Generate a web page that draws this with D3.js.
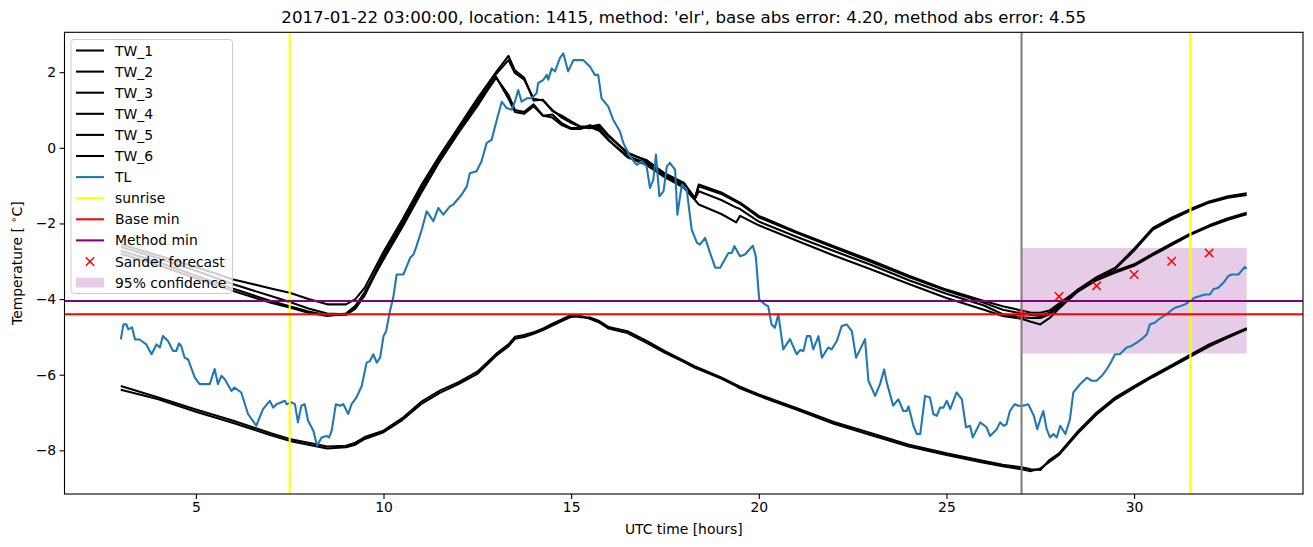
<!DOCTYPE html>
<html><head><meta charset="utf-8">
<script src="https://cdn.jsdelivr.net/npm/d3@7"></script>
<style>body{margin:0;background:#fff}svg text{font-family:"DejaVu Sans",sans-serif}</style>
</head><body><svg id="c" width="1313" height="547"></svg>
<script>
const titleText = "2017-01-22 03:00:00, location: 1415, method: 'elr', base abs error: 4.20, method abs error: 4.55";
const xTicks = [5, 10, 15, 20, 25, 30];
const yTicks = [-8, -6, -4, -2, 0, 2];
const seriesNames = ["TW_1","TW_2","TW_3","TW_4","TW_5","TW_6"];
const twTime = [3,4,5,6,7,7.5,8,8.5,9,9.25,9.5,10,10.5,11,11.5,12,12.5,13,13.33,13.5,13.75,14,14.25,14.5,14.75,15,15.25,15.5,15.75,16,16.5,17,17.5,18,18.3,18.4,19,19.4,19.5,20,21,22,23,24,25,26,26.5,27,27.25,27.5,27.75,28,28.5,29,29.5,30,30.5,31,31.5,32,32.5,33];
const tw1 = [-2.55,-2.85,-3.15,-3.48,-3.72,-3.83,-4.0,-4.14,-4.14,-4.0,-3.7,-2.75,-1.9,-1.0,-0.2,0.55,1.3,2.0,2.43,2.05,1.85,1.25,1.27,0.97,0.85,0.7,0.56,0.56,0.61,0.33,-0.15,-0.32,-0.68,-0.92,-1.33,-0.97,-1.18,-1.4,-1.45,-1.8,-2.22,-2.6,-2.98,-3.38,-3.75,-4.05,-4.19,-4.3,-4.36,-4.36,-4.3,-4.12,-3.76,-3.46,-3.26,-3.08,-2.8,-2.53,-2.27,-2.05,-1.86,-1.72];
const tw2 = [-2.62,-2.92,-3.25,-3.61,-3.92,-4.08,-4.25,-4.38,-4.4,-4.2,-3.85,-2.85,-1.98,-1.08,-0.25,0.5,1.22,1.95,2.32,1.98,1.8,1.3,1.25,1.0,0.8,0.66,0.55,0.52,0.56,0.3,-0.12,-0.35,-0.72,-0.97,-1.33,-1.02,-1.22,-1.43,-1.48,-1.84,-2.25,-2.64,-3.02,-3.42,-3.78,-4.1,-4.28,-4.38,-4.42,-4.45,-4.36,-4.15,-3.8,-3.5,-3.3,-3.12,-2.84,-2.57,-2.3,-2.08,-1.9,-1.76];
const tw3 = [-2.72,-3.02,-3.38,-3.73,-4.05,-4.19,-4.33,-4.43,-4.42,-4.25,-3.9,-2.9,-2.05,-1.15,-0.3,0.45,1.15,1.85,1.4,1.0,0.95,1.15,0.85,0.88,0.65,0.52,0.52,0.55,0.45,0.2,-0.22,-0.4,-0.75,-1.0,-1.35,-1.15,-1.38,-1.58,-1.62,-1.95,-2.35,-2.73,-3.1,-3.5,-3.86,-4.17,-4.4,-4.48,-4.5,-4.5,-4.4,-4.2,-3.75,-3.42,-3.17,-2.67,-2.12,-1.85,-1.62,-1.42,-1.28,-1.2];
const tw4 = [-2.8,-3.1,-3.45,-3.79,-4.1,-4.22,-4.36,-4.45,-4.38,-4.18,-3.82,-2.95,-2.1,-1.2,-0.35,0.4,1.1,1.88,1.3,0.95,0.9,1.1,0.85,0.8,0.6,0.5,0.5,0.6,0.5,0.2,-0.25,-0.45,-0.78,-1.05,-1.38,-1.5,-1.75,-1.97,-1.8,-2.05,-2.45,-2.85,-3.22,-3.6,-3.97,-4.28,-4.45,-4.52,-4.6,-4.67,-4.5,-4.25,-3.8,-3.46,-3.2,-2.72,-2.16,-1.9,-1.66,-1.45,-1.32,-1.25];
const tw5 = [-6.3,-6.6,-6.92,-7.22,-7.55,-7.7,-7.8,-7.9,-7.88,-7.8,-7.65,-7.48,-7.15,-6.72,-6.42,-6.2,-5.92,-5.45,-5.2,-5.0,-4.95,-4.88,-4.78,-4.65,-4.54,-4.42,-4.48,-4.49,-4.58,-4.74,-4.85,-5.1,-5.38,-5.63,-5.78,-5.82,-6.07,-6.27,-6.32,-6.52,-6.88,-7.25,-7.55,-7.85,-8.08,-8.28,-8.38,-8.45,-8.5,-8.52,-8.25,-8.08,-7.5,-7.0,-6.6,-6.3,-6.02,-5.75,-5.47,-5.2,-4.98,-4.77];
const tw6 = [-6.4,-6.65,-6.98,-7.28,-7.6,-7.75,-7.85,-7.95,-7.92,-7.85,-7.7,-7.52,-7.2,-6.78,-6.48,-6.25,-5.98,-5.5,-5.25,-5.05,-5.0,-4.92,-4.82,-4.7,-4.58,-4.47,-4.45,-4.52,-4.62,-4.78,-4.9,-5.15,-5.42,-5.66,-5.82,-5.86,-6.1,-6.3,-6.36,-6.56,-6.92,-7.3,-7.6,-7.9,-8.12,-8.33,-8.42,-8.5,-8.55,-8.48,-8.3,-8.12,-7.55,-7.05,-6.65,-6.35,-6.06,-5.79,-5.52,-5.25,-5.02,-4.8];
const tlTime = [3.0,3.07,3.15,3.2,3.3,3.38,3.5,3.68,3.82,3.95,4.04,4.12,4.26,4.39,4.48,4.55,4.61,4.7,4.79,4.97,5.1,5.37,5.5,5.59,5.68,5.77,5.95,6.03,6.21,6.39,6.61,6.79,6.97,7.06,7.15,7.28,7.37,7.42,7.55,7.64,7.72,7.81,7.9,7.99,8.13,8.23,8.35,8.48,8.55,8.62,8.73,8.84,8.93,9.06,9.15,9.28,9.42,9.55,9.64,9.73,9.82,9.91,10.0,10.07,10.17,10.26,10.35,10.53,10.71,10.8,10.88,11.02,11.15,11.33,11.46,11.59,11.77,11.86,12.08,12.22,12.3,12.48,12.61,12.75,12.88,13.02,13.15,13.28,13.42,13.5,13.59,13.68,13.82,13.95,14.08,14.12,14.26,14.35,14.39,14.48,14.57,14.7,14.79,14.92,15.06,15.32,15.5,15.63,15.72,15.81,15.99,16.12,16.3,16.39,16.57,16.75,16.88,17.01,17.1,17.19,17.26,17.35,17.46,17.55,17.63,17.77,17.83,17.95,18.08,18.21,18.35,18.43,18.57,18.7,18.84,18.97,19.19,19.28,19.35,19.5,19.63,19.84,19.92,20.01,20.16,20.25,20.34,20.43,20.52,20.65,20.83,21.01,21.1,21.19,21.28,21.37,21.45,21.59,21.68,21.85,21.94,22.08,22.21,22.34,22.48,22.59,22.7,22.83,22.92,23.1,23.23,23.34,23.41,23.58,23.72,23.85,23.94,23.99,24.12,24.21,24.3,24.43,24.56,24.65,24.74,24.83,24.92,25.01,25.1,25.27,25.41,25.52,25.63,25.7,25.9,26.07,26.16,26.34,26.43,26.52,26.6,26.69,26.82,26.91,27.04,27.18,27.33,27.42,27.5,27.58,27.67,27.76,27.85,27.94,28.03,28.17,28.29,28.38,28.56,28.74,28.87,29.0,29.14,29.27,29.4,29.49,29.62,29.8,29.93,30.07,30.2,30.34,30.42,30.56,30.65,30.78,30.87,30.96,31.09,31.22,31.36,31.49,31.62,31.76,31.89,32.02,32.11,32.24,32.38,32.51,32.6,32.78,32.95,33.0];
const tlTemp = [-5.07,-4.67,-4.67,-4.8,-4.75,-5.07,-5.07,-5.2,-5.46,-5.2,-5.28,-4.98,-5.11,-5.37,-5.37,-5.17,-5.24,-5.55,-5.59,-6.07,-6.25,-6.25,-5.85,-6.25,-6.03,-6.12,-6.43,-6.34,-6.47,-7.04,-7.35,-6.91,-6.69,-6.87,-6.78,-6.73,-6.69,-6.78,-6.73,-6.78,-7.26,-6.82,-6.78,-7.22,-7.48,-7.88,-7.66,-7.62,-7.66,-7.48,-6.78,-6.82,-6.78,-7.04,-6.78,-6.6,-6.3,-5.68,-5.64,-5.46,-5.68,-5.55,-4.98,-4.85,-4.32,-3.96,-3.35,-3.35,-2.91,-2.82,-2.6,-2.16,-1.68,-1.94,-1.59,-1.77,-1.55,-1.5,-1.24,-1.02,-0.67,-0.62,-0.36,0.13,0.21,0.74,1.22,1.05,1.01,1.22,1.53,1.22,1.31,1.31,1.45,1.71,1.8,1.93,1.8,2.1,2.02,2.37,2.5,2.02,2.32,2.32,2.15,1.93,1.93,1.31,1.09,0.74,0.43,0.13,-0.23,-0.45,-0.36,-0.49,-1.06,-0.84,-0.18,-1.28,-1.15,-0.49,-0.4,-0.58,-1.77,-0.97,-1.11,-2.16,-2.51,-2.56,-2.38,-2.78,-3.17,-3.17,-2.78,-2.78,-2.6,-2.87,-2.82,-2.59,-2.87,-4.01,-4.14,-4.19,-4.67,-4.76,-4.4,-5.33,-5.06,-5.46,-5.35,-5.37,-4.98,-4.98,-5.33,-4.98,-5.55,-5.28,-5.33,-5.11,-4.71,-4.67,-4.85,-5.55,-5.33,-5.06,-6.16,-6.56,-6.25,-5.86,-6.21,-6.82,-6.65,-6.96,-6.96,-6.84,-7.35,-7.57,-7.57,-6.56,-6.6,-7.04,-7.09,-6.87,-6.87,-6.69,-6.91,-6.47,-6.65,-7.39,-7.35,-7.66,-7.26,-7.39,-7.62,-7.44,-7.26,-7.35,-7.31,-6.96,-6.78,-6.82,-6.82,-6.78,-7.09,-7.44,-7.18,-6.96,-7.44,-7.66,-7.57,-7.66,-7.35,-7.57,-7.18,-6.47,-6.25,-6.08,-6.16,-6.16,-6.03,-5.86,-5.64,-5.46,-5.46,-5.28,-5.24,-5.15,-5.06,-4.93,-4.67,-4.62,-4.54,-4.45,-4.4,-4.32,-4.23,-4.19,-4.14,-4.05,-3.96,-3.92,-3.88,-3.88,-3.74,-3.7,-3.57,-3.39,-3.35,-3.35,-3.15,-3.2];
const sunriseHours = [7.5, 31.5];
const forecastStart = 27;
const baseMin = -4.4;
const methodMin = -4.05;
const sanderHours = [27, 28, 29, 30, 31, 32];
const sanderTemp = [-4.4, -3.93, -3.65, -3.35, -3.0, -2.78];
const confHours = [27, 33];
const confLow = -5.44;
const confHigh = -2.65;
const legendLabels = ["TW_1","TW_2","TW_3","TW_4","TW_5","TW_6","TL","sunrise","Base min","Method min","Sander forecast","95% confidence"];

const W = 1313, H = 547;
const L = 64.5, R = 1303, T = 32.3, B = 494;
const LW = 2.08;
const svg = d3.select("#c");
const x = d3.scaleLinear().domain([1.5, 34.5]).range([L, R]);
const y = d3.scaleLinear().domain([-9.155, 3.055]).range([B, T]);

svg.append("defs").append("clipPath").attr("id","clip").append("rect")
  .attr("x", L).attr("y", T).attr("width", R-L).attr("height", B-T);
const plot = svg.append("g").attr("clip-path","url(#clip)");

// confidence band
plot.append("rect")
  .attr("x", x(confHours[0])).attr("width", x(confHours[1]) - x(confHours[0]))
  .attr("y", y(confHigh)).attr("height", y(confLow) - y(confHigh))
  .attr("fill", "purple").attr("fill-opacity", 0.2);

const line = d3.line().x(d => x(d[0])).y(d => y(d[1]));
const twSeries = [tw1, tw2, tw3, tw4, tw5, tw6];
twSeries.forEach(vals => {
  plot.append("path").datum(twTime.map((t, i) => [t, vals[i]]))
    .attr("d", line).attr("fill","none").attr("stroke","#000").attr("stroke-width",LW)
    .attr("stroke-linejoin","round");
});
plot.append("path").datum(tlTime.map((t, i) => [t, tlTemp[i]]))
  .attr("d", line).attr("fill","none").attr("stroke","#1f77b4").attr("stroke-width",LW)
  .attr("stroke-linejoin","round");

sunriseHours.forEach(h => {
  plot.append("line").attr("x1", x(h)).attr("x2", x(h)).attr("y1", T).attr("y2", B)
    .attr("stroke","yellow").attr("stroke-width",LW);
});
plot.append("line").attr("x1", x(forecastStart)).attr("x2", x(forecastStart)).attr("y1", T).attr("y2", B)
  .attr("stroke","gray").attr("stroke-width",LW);
plot.append("line").attr("x1", L).attr("x2", R).attr("y1", y(baseMin)).attr("y2", y(baseMin))
  .attr("stroke","red").attr("stroke-width",LW);
plot.append("line").attr("x1", L).attr("x2", R).attr("y1", y(methodMin)).attr("y2", y(methodMin))
  .attr("stroke","purple").attr("stroke-width",LW);

function cross(g, cx, cy) {
  const s = 4.2;
  g.append("path").attr("d", `M${cx-s},${cy-s}L${cx+s},${cy+s}M${cx-s},${cy+s}L${cx+s},${cy-s}`)
    .attr("stroke","red").attr("stroke-width",1.5).attr("fill","none");
}
sanderHours.forEach((h, i) => cross(plot, x(h), y(sanderTemp[i])));

// frame
svg.append("rect").attr("x", L).attr("y", T).attr("width", R-L).attr("height", B-T)
  .attr("fill","none").attr("stroke","#000").attr("stroke-width",1.1);

// axes
const xAxis = svg.append("g").attr("transform", `translate(0,${B})`)
  .call(d3.axisBottom(x).tickValues(xTicks).tickSize(4.9).tickPadding(3.5).tickFormat(d3.format("d")));
const yAxis = svg.append("g").attr("transform", `translate(${L},0)`)
  .call(d3.axisLeft(y).tickValues(yTicks).tickSize(4.9).tickPadding(3.5).tickFormat(d => d < 0 ? "\u2212" + Math.abs(d) : String(d)));
[xAxis, yAxis].forEach(a => {
  a.select(".domain").remove();
  a.selectAll("text").attr("font-size", 13.9).attr("fill","#000").attr("font-family","DejaVu Sans");
  a.selectAll("line").attr("stroke","#000").attr("stroke-width",1.1);
});

svg.append("text").attr("x", (L+R)/2).attr("y", 23).attr("text-anchor","middle")
  .attr("font-size", 16.67).text(titleText);
svg.append("text").attr("x", (L+R)/2).attr("y", 534).attr("text-anchor","middle")
  .attr("font-size", 13.9).text("UTC time [hours]");
const yl = svg.append("text").attr("transform", `translate(22,${(T+B)/2}) rotate(-90)`)
  .attr("text-anchor","middle").attr("font-size", 13.9);
yl.append("tspan").text("Temperature [ ");
yl.append("tspan").attr("font-size", 10).attr("dy", -5).text("\u2218");
yl.append("tspan").attr("dy", 5).text("C]");

// legend
const lg = svg.append("g");
lg.append("rect").attr("x", 71).attr("y", 39.5).attr("width", 161.5).attr("height", 254)
  .attr("rx", 3).attr("fill","#fff").attr("fill-opacity",0.8).attr("stroke","#cccccc").attr("stroke-width",1);
const legColors = ["#000","#000","#000","#000","#000","#000","#1f77b4","yellow","red","purple"];
legendLabels.forEach((lab, i) => {
  const ry = 50.5 + i * 21.1;
  if (i < 10) {
    lg.append("line").attr("x1", 76).attr("x2", 104).attr("y1", ry).attr("y2", ry)
      .attr("stroke", legColors[i]).attr("stroke-width", LW);
  } else if (i === 10) {
    cross(lg, 90, ry);
  } else {
    lg.append("rect").attr("x", 76).attr("y", ry - 4.9).attr("width", 28).attr("height", 9.8)
      .attr("fill","purple").attr("fill-opacity",0.2);
  }
  lg.append("text").attr("x", 115).attr("y", ry + 5).attr("font-size", 13.9).text(lab);
});
</script></body></html>
